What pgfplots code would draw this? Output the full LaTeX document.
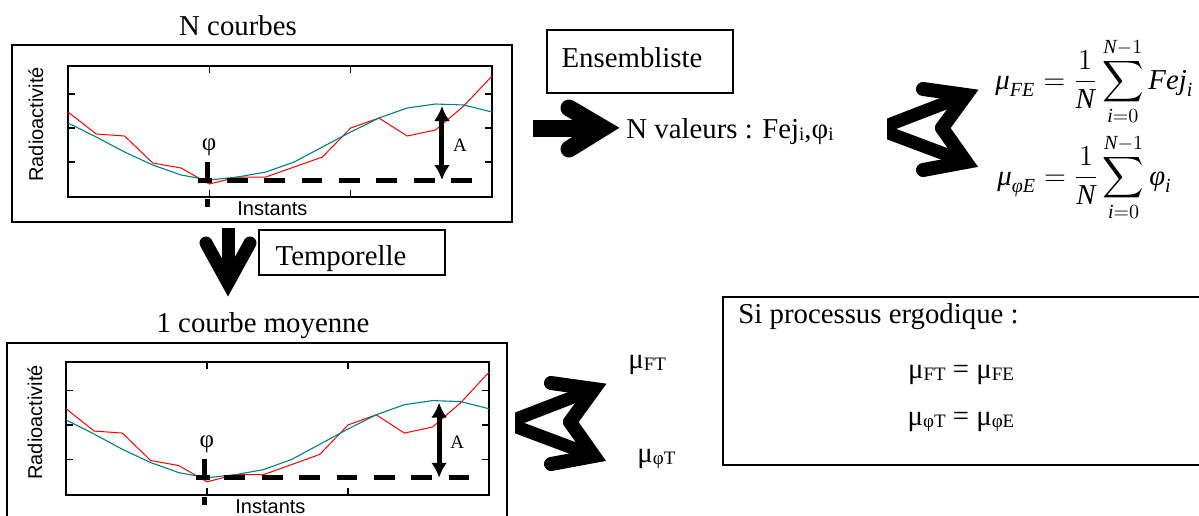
\documentclass[border=0pt]{standalone}
\usepackage{amsmath}
\usepackage{exscale}
\usepackage[no-math]{fontspec}
\setmainfont{Liberation Serif}
\setsansfont{Liberation Sans}
\usepackage{pgfplots}
\pgfplotsset{compat=1.18}
\usetikzlibrary{arrows.meta}
\definecolor{tealc}{RGB}{0,128,128}
\newcommand{\tfont}{\fontsize{14.4}{17}\selectfont}
\newcommand{\lfont}{\sffamily\fontsize{10}{12}\selectfont}
\newcommand{\sub}[1]{\raisebox{-1.2pt}{\fontsize{9.5}{11}\selectfont #1}}
\newcommand{\ti}[1]{\text{\itshape #1}}
\newcommand{\courbes}[4]{%
\begin{axis}[at={(#1,#2)}, anchor=south west, scale only axis, width=#3, height=#4,
  xmin=0, xmax=15, ymin=0, ymax=131,
  xtick={0,5,10,15}, ytick={35,69,103}, xticklabels={}, yticklabels={},
  tick align=inside, major tick length=3.5pt,
  axis line style={line width=0.65pt},
  every tick/.style={black, line width=0.65pt},
  clip=false]
\addplot[red, line width=0.5pt] coordinates {(0,85)(1,63)(2,61)(3,34)(4,29)(5,13)(6,20)(7,20)(8,30)(9,40)(10,69)(11,79)(12,61)(13,67)(14,91)(15,121)};
\addplot[tealc, line width=0.55pt] coordinates {(0,74)(1,60)(2,45)(3,32)(4,22)(5,17)(6,20)(7,25)(8,35)(9,50)(10,65)(11,79)(12,89)(13,93)(14,92)(15,85)};
\draw[line width=2.5pt, dash pattern=on 10.35pt off 8.35pt] (axis cs:5.62,17) -- (axis cs:14.3,17);
\draw[line width=2.5pt] (axis cs:4.6,17) -- (axis cs:5.1,17);
\draw[line width=2.5pt] (axis cs:4.92,35) -- (axis cs:4.92,15);
\draw[line width=2.5pt] (axis cs:4.92,-2) -- (axis cs:4.92,-10);
\node[font=\fontsize{12.5}{14}\selectfont, inner sep=0] at (axis cs:4.99,50) {φ};
\draw[line width=2.5pt, {Latex[length=7.5pt,width=8pt]}-{Latex[length=7.5pt,width=8pt]}] (axis cs:13.23,91) -- (axis cs:13.23,17);
\node[font=\fontsize{9.5}{11}\selectfont, inner sep=0] at (axis cs:13.87,52) {A};
\end{axis}}
\newcommand{\doublearrow}{%
\begin{scope}
\clip (887,0) rectangle (1000,250);
\draw[line width=6.5pt] (878,129) -- (966,95);
\draw[line width=6.5pt] (878,129) -- (966,162);
\end{scope}
\draw[line width=7pt, line cap=round, line join=miter] (923,89) -- (966,95) -- (942,128);
\draw[line width=7pt, line cap=round, line join=miter] (923,170) -- (966,162) -- (942,128);
}
\begin{document}
\begin{tikzpicture}
\courbes{34pt}{-98.5pt}{212pt}{65.5pt}
\courbes{33pt}{-247.5pt}{211.5pt}{66.5pt}
\begin{scope}[x=0.5pt, y=-0.5pt]
% top left block
\node[anchor=base, font=\tfont, inner sep=0] at (238,35) {N courbes};
\draw[line width=0.75pt] (12,45) rectangle (512,222);
\node[anchor=base west, inner sep=0, font=\lfont] at (237,215) {Instants};
\node[rotate=90, anchor=base west, inner sep=0, font=\lfont] at (43,182) {Radioactivité};
% bottom left block
\node[anchor=base, font=\tfont, inner sep=0] at (263,332) {1 courbe moyenne};
\draw[line width=0.75pt] (7,343) rectangle (507,545);
\node[anchor=base west, inner sep=0, font=\lfont] at (235,513) {Instants};
\node[rotate=90, anchor=base west, inner sep=0, font=\lfont] at (42,480) {Radioactivité};
% down arrow + Temporelle
\draw[line width=6.5pt] (228,228) -- (228,283);
\draw[line width=6.5pt, line cap=round, line join=miter] (206,243) -- (228,283) -- (250,243);
\draw[line width=0.75pt] (259,230) rectangle (445,275);
\node[anchor=base, font=\tfont, inner sep=0] at (341,265) {Temporelle};
% Ensembliste
\draw[line width=0.75pt] (547,30) rectangle (733,93);
\node[anchor=base, font=\tfont, inner sep=0] at (632,67) {Ensembliste};
\draw[line width=8.5pt] (533,128) -- (600,128);
\draw[line width=8.5pt, line cap=round, line join=miter] (569,108) -- (603,128) -- (569,149);
\node[anchor=base west, font=\tfont, inner sep=0] at (626,138) {N valeurs : Fej\sub{i},φ\sub{i}};
% double arrow top
\doublearrow
\node[anchor=base west, font=\tfont, inner sep=0] at (995,89) {$\displaystyle \ti{μ}_{\ti{FE}}=\frac{1}{\ti{N}}\sum_{\ti{i}=0}^{\ti{N}-1}\ti{Fej}_{\ti{i}}$};
\node[anchor=base west, font=\tfont, inner sep=0] at (997,185) {$\displaystyle \ti{μ}_{\ti{φE}}=\frac{1}{\ti{N}}\sum_{\ti{i}=0}^{\ti{N}-1}\ti{φ}_{\ti{i}}$};
% double arrow bottom
\begin{scope}[shift={(-372,294)}]
\doublearrow
\end{scope}
\node[anchor=base west, font=\tfont, inner sep=0] at (628,368) {μ\sub{FT}};
\node[anchor=base west, font=\tfont, inner sep=0] at (637,462) {μ\sub{φT}};
% ergodic box
\draw[line width=0.75pt] (723,297) rectangle (1215,465);
\node[anchor=base west, font=\tfont, inner sep=0] at (738,323) {Si processus ergodique :};
\node[anchor=base, font=\tfont, inner sep=0] at (961,378) {μ\sub{FT} = μ\sub{FE}};
\node[anchor=base, font=\tfont, inner sep=0] at (961,425) {μ\sub{φT} = μ\sub{φE}};
\pgfresetboundingbox
\path[use as bounding box] (0,0) rectangle (1199,515);
\end{scope}
\end{tikzpicture}
\end{document}
